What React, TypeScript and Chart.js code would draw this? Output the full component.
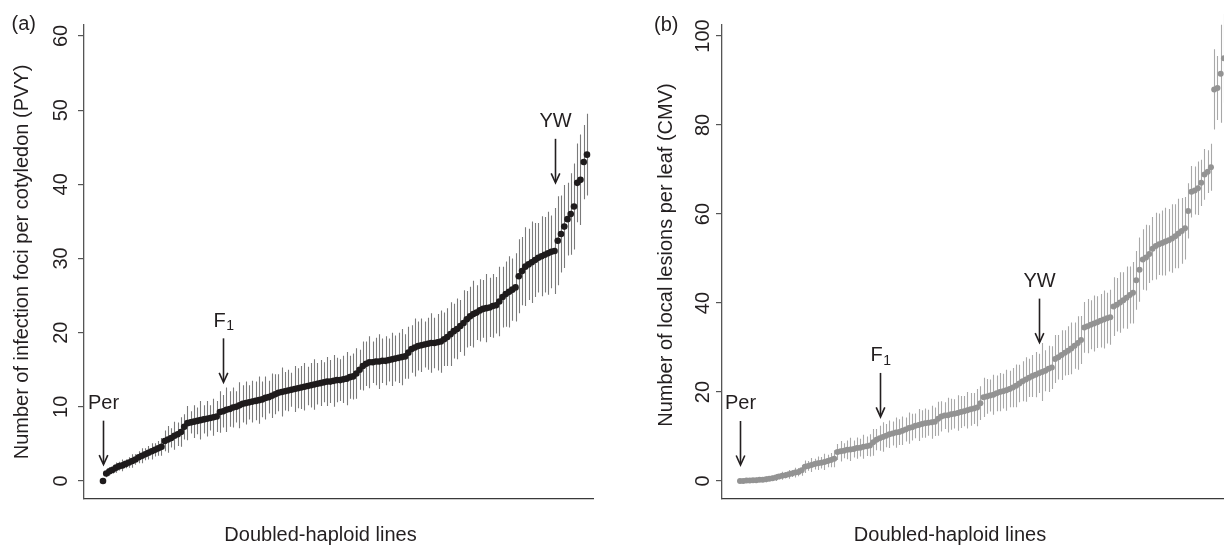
import React, { useEffect, useRef } from "react";
import { Chart, registerables } from "chart.js";

Chart.register(...registerables);

const FONT = '"Liberation Sans", Arial, Helvetica, sans-serif';
const INK = "#231f20";

// ---------- Panel (a): PVY ----------
const pvyMeans = [
  0, 1.0, 1.3, 1.5, 1.8, 2.0, 2.1, 2.3, 2.5, 2.7,
  2.9, 3.2, 3.4, 3.6, 3.8, 4.0, 4.2, 4.4, 4.6, 5.4,
  5.6, 5.8, 6.1, 6.3, 6.6, 7.3, 7.8, 7.9, 8.0, 8.1,
  8.2, 8.3, 8.4, 8.5, 8.6, 8.7, 9.3, 9.4, 9.6, 9.7,
  9.9, 10.0, 10.2, 10.4, 10.5, 10.6, 10.7, 10.8, 10.9, 11.0,
  11.2, 11.3, 11.5, 11.7, 11.9, 12.0, 12.1, 12.2, 12.3, 12.4,
  12.5, 12.6, 12.7, 12.8, 12.9, 13.0, 13.1, 13.2, 13.3, 13.4,
  13.4, 13.5, 13.6, 13.6, 13.7, 13.8, 14.0, 14.1, 14.5, 15.0,
  15.5, 15.8, 16.0, 16.0, 16.1, 16.1, 16.2, 16.2, 16.3, 16.4,
  16.5, 16.6, 16.7, 16.8, 17.3, 17.8, 18.0, 18.2, 18.3, 18.4,
  18.5, 18.6, 18.6, 18.7, 18.8, 19.1, 19.4, 19.8, 20.2, 20.5,
  20.9, 21.3, 21.8, 22.2, 22.5, 22.7, 23.0, 23.2, 23.3, 23.4,
  23.6, 23.7, 24.2, 24.8, 25.2, 25.5, 25.8, 26.1, 27.6, 28.3,
  28.9, 29.2, 29.5, 29.8, 30.1, 30.3, 30.5, 30.7, 30.9, 31.0,
  32.4, 33.3, 34.3, 35.3, 36.0, 37.0, 40.2, 40.6, 43.0, 44.0,
];
const pvyErrors = [
  0.3, 0.5, 0.6, 0.5, 0.7, 0.6, 0.8, 0.6, 0.7, 0.9,
  0.7, 0.8, 1.0, 0.8, 0.9, 1.1, 0.9, 1.0, 1.2, 1.4,
  1.8, 1.3, 1.9, 1.6, 2.0, 1.7, 2.3, 1.5, 2.2, 1.8,
  2.6, 1.9, 2.4, 1.7, 2.5, 2.1, 2.8, 2.2, 3.0, 2.4,
  2.7, 2.1, 3.1, 2.5, 2.9, 2.3, 2.8, 2.6, 3.2, 2.4,
  2.9, 2.2, 3.0, 2.7, 2.5, 3.3, 2.6, 2.8, 2.3, 3.1,
  2.7, 2.9, 3.2, 2.6, 3.0, 3.4, 2.8, 3.1, 2.7, 3.3,
  2.9, 3.5, 3.0, 2.8, 3.2, 3.6, 2.9, 3.1, 3.4, 2.7,
  3.3, 3.0, 3.5, 2.8, 3.2, 3.7, 3.0, 3.3, 2.9, 3.6,
  3.1, 3.4, 3.8, 3.0, 3.5, 3.2, 3.9, 3.3, 3.6, 3.1,
  3.5, 4.0, 3.4, 3.8, 4.2, 3.6, 3.9, 4.3, 3.7, 4.1,
  3.5, 4.4, 3.8, 4.0, 4.5, 3.7, 4.2, 3.9, 4.6, 4.0,
  4.3, 3.8, 4.7, 4.1, 4.4, 4.8, 4.2, 4.6, 5.0, 4.6,
  5.3, 4.8, 5.5, 5.0, 4.7, 5.4, 5.1, 5.6, 4.9, 5.8,
  6.0, 5.2, 5.6, 4.9, 5.5, 5.8, 5.3, 6.1, 5.0, 5.5,
];
const pvyTicks = [0, 10, 20, 30, 40, 50, 60];
const pvyMarkerLabels = ["Per", "F_1", "YW"];
const pvyMarkerLines = [0, 37, 139];
const pvyMarkerTips = [2.2, 13.3, 40.2];

// ---------- Panel (b): CMV ----------
const cmvMeans = [
  0.0, 0.0, 0.1, 0.1, 0.2, 0.2, 0.3, 0.3, 0.4, 0.5,
  0.6, 0.8, 1.0, 1.2, 1.3, 1.5, 1.7, 1.9, 2.0, 2.4,
  3.2, 3.4, 3.6, 3.8, 4.0, 4.1, 4.3, 4.5, 4.7, 5.0,
  6.5, 6.7, 6.8, 7.0, 7.1, 7.2, 7.4, 7.5, 7.7, 7.8,
  8.0, 8.7, 9.3, 9.6, 9.9, 10.2, 10.5, 10.7, 10.9, 11.0,
  11.3, 11.6, 11.9, 12.1, 12.4, 12.6, 12.8, 13.0, 13.1, 13.2,
  13.3, 14.0, 14.5, 14.7, 14.8, 15.0, 15.1, 15.3, 15.5, 15.7,
  15.9, 16.1, 16.3, 16.5, 17.5, 18.8, 19.0, 19.2, 19.4, 19.7,
  20.0, 20.2, 20.4, 20.7, 21.0, 21.4, 21.9, 22.4, 22.8, 23.2,
  23.6, 23.9, 24.2, 24.5, 24.8, 25.2, 25.5, 27.4, 27.8, 28.3,
  28.8, 29.3, 29.8, 30.4, 31.0, 31.7, 34.5, 34.8, 35.1, 35.4,
  35.7, 36.0, 36.3, 36.6, 36.8, 39.2, 39.6, 40.1, 40.6, 41.2,
  41.8, 42.3, 45.1, 47.5, 49.8, 50.2, 51.0, 52.2, 52.8, 53.2,
  53.5, 53.8, 54.1, 54.5, 55.0, 55.6, 56.2, 56.8, 60.7, 65.0,
  65.3, 65.8, 67.0, 68.9, 69.5, 70.5, 88.0, 88.3, 91.5, 95.0,
];
const cmvErrors = [
  0.3, 0.4, 0.3, 0.5, 0.4, 0.6, 0.4, 0.5, 0.7, 0.5,
  0.6, 0.8, 0.6, 0.9, 0.7, 1.0, 0.8, 1.1, 0.9, 1.2,
  1.4, 1.1, 1.6, 1.2, 1.5, 1.3, 1.8, 1.4, 1.6, 1.9,
  1.8, 2.3, 1.7, 2.1, 2.6, 1.9, 2.4, 2.0, 2.7, 2.2,
  2.5, 3.0, 2.4, 2.8, 3.3, 2.6, 3.1, 2.7, 3.4, 2.9,
  3.2, 2.7, 3.5, 3.0, 2.8, 3.6, 3.1, 3.3, 2.9, 3.7,
  3.2, 3.8, 3.4, 3.0, 3.9, 3.5, 3.3, 4.0, 3.6, 3.4,
  4.1, 3.7, 3.5, 4.2, 3.8, 4.4, 3.9, 3.6, 4.5, 4.0,
  4.3, 3.9, 4.6, 4.1, 4.4, 4.8, 4.2, 4.5, 5.0, 4.3,
  4.7, 5.1, 4.4, 6.5, 4.6, 5.2, 4.8, 5.4, 5.0, 5.6,
  5.1, 5.5, 5.8, 5.2, 6.0, 5.4, 5.7, 6.1, 5.5, 6.3,
  5.8, 6.0, 6.5, 5.7, 6.2, 6.6, 6.0, 6.8, 6.3, 7.0,
  6.4, 6.9, 6.6, 7.2, 6.8, 7.4, 6.5, 7.1, 7.5, 6.9,
  7.3, 7.6, 7.0, 7.7, 7.2, 7.8, 7.4, 7.0, 6.2, 5.8,
  5.4, 6.0, 5.2, 5.7, 4.8, 5.3, 9.0, 7.2, 11.0, 10.0,
];
const cmvTicks = [0, 20, 40, 60, 80, 100];
const cmvMarkerLabels = ["Per", "F_1", "YW"];
const cmvMarkerLines = [0, 43, 92];
const cmvMarkerTips = [3.6, 14.4, 31.1];

const xTitle = "Doubled-haploid lines";

type PanelSpec = {
  letter: string;
  yTitle: string;
  means: number[];
  errors: number[];
  ticks: number[];
  markerLabels: string[];
  markerLines: number[];
  markerTips: number[];
  yMin: number;
  yMax: number;
  xMin: number;
  xMax: number;
  canvasLeft: number;
  canvasWidth: number;
  padRight: number;
  pointColor: string;
  pointRadius: number;
  barColor: string;
  barWidth: number;
  tickLabelX: number;
  yTitleX: number;
  yTitleY: number;
  xTitleX: number;
  letterX: number;
  letterY: number;
};

const errorBarPlugin = {
  id: "errorBars",
  beforeDatasetsDraw(chart: any, _args: any, opts: any) {
    const { ctx } = chart;
    const xs = chart.scales.x;
    const ys = chart.scales.y;
    const pts = chart.data.datasets[0].data as { x: number; y: number }[];
    ctx.save();
    ctx.strokeStyle = opts.color;
    ctx.lineWidth = opts.width;
    ctx.beginPath();
    pts.forEach((p, i) => {
      const e = opts.errors[i];
      const px = Math.round(xs.getPixelForValue(p.x)) + 0.5;
      ctx.moveTo(px, ys.getPixelForValue(p.y - e));
      ctx.lineTo(px, ys.getPixelForValue(p.y + e));
    });
    ctx.stroke();
    ctx.restore();
  },
};

const decorPlugin = {
  id: "decor",
  afterDraw(chart: any, _args: any, o: any) {
    const { ctx } = chart;
    const xs = chart.scales.x;
    const ys = chart.scales.y;
    ctx.save();
    ctx.fillStyle = INK;
    ctx.strokeStyle = INK;

    // y tick labels (rotated)
    ctx.font = `20px ${FONT}`;
    ctx.textAlign = "center";
    ctx.textBaseline = "middle";
    o.ticks.forEach((v: number) => {
      ctx.save();
      ctx.translate(o.tickLabelX, ys.getPixelForValue(v));
      ctx.rotate(-Math.PI / 2);
      ctx.fillText(String(v), 0, 0);
      ctx.restore();
    });

    // y title
    ctx.save();
    ctx.translate(o.yTitleX, o.yTitleY);
    ctx.rotate(-Math.PI / 2);
    ctx.fillText(o.yTitle, 0, 0);
    ctx.restore();

    // x title
    ctx.textBaseline = "alphabetic";
    ctx.fillText(o.xTitle, o.xTitleX, 540.5);

    // panel letter
    ctx.textAlign = "left";
    ctx.textBaseline = "middle";
    ctx.fillText(o.letter, o.letterX, o.letterY);

    // markers (arrows + labels)
    o.markerLabels.forEach((label: string, k: number) => {
      const px = Math.round(xs.getPixelForValue(o.markerLines[k])) + 0.5;
      const tip = ys.getPixelForValue(o.markerTips[k]);
      const top = tip - 44;
      ctx.lineWidth = 1.6;
      ctx.beginPath();
      ctx.moveTo(px, top);
      ctx.lineTo(px, tip - 1);
      ctx.stroke();
      ctx.beginPath();
      ctx.moveTo(px - 4.3, tip - 9.5);
      ctx.lineTo(px, tip);
      ctx.lineTo(px + 4.3, tip - 9.5);
      ctx.stroke();
      const base = top - 11.5;
      ctx.textBaseline = "alphabetic";
      const parts = label.split("_");
      if (parts.length === 2) {
        ctx.font = `20px ${FONT}`;
        const w1 = ctx.measureText(parts[0]).width;
        ctx.font = `14px ${FONT}`;
        const w2 = ctx.measureText(parts[1]).width;
        const start = px - (w1 + w2) / 2;
        ctx.textAlign = "left";
        ctx.font = `20px ${FONT}`;
        ctx.fillText(parts[0], start, base);
        ctx.font = `14px ${FONT}`;
        ctx.fillText(parts[1], start + w1 + 0.5, base + 3.5);
      } else {
        ctx.font = `20px ${FONT}`;
        ctx.textAlign = "center";
        ctx.fillText(label, px, base);
      }
    });
    ctx.restore();
  },
};

function buildConfig(s: PanelSpec): any {
  return {
    type: "scatter",
    data: {
      datasets: [
        {
          data: s.means.map((v, i) => ({ x: i, y: v })),
          pointRadius: s.pointRadius,
          pointBackgroundColor: s.pointColor,
          pointBorderWidth: 0,
          showLine: false,
          clip: false,
        },
      ],
    },
    plugins: [errorBarPlugin, decorPlugin],
    options: {
      animation: false,
      responsive: false,
      events: [],
      layout: { padding: { top: 25, left: 0, right: s.padRight, bottom: 0 } },
      scales: {
        x: {
          type: "linear",
          min: s.xMin,
          max: s.xMax,
          grid: { display: false },
          ticks: { display: false },
          border: { display: true, color: "#3a3a3a", width: 1.3 },
          afterFit: (scale: any) => {
            scale.height = 47;
          },
        },
        y: {
          type: "linear",
          min: s.yMin,
          max: s.yMax,
          afterBuildTicks: (scale: any) => {
            scale.ticks = s.ticks.map((v) => ({ value: v }));
          },
          grid: {
            display: true,
            drawOnChartArea: false,
            drawTicks: true,
            tickLength: 6,
            color: "#555555",
            lineWidth: 1.2,
          },
          ticks: { display: false },
          border: { display: true, color: "#555555", width: 1.3 },
          afterFit: (scale: any) => {
            scale.width = 84;
          },
        },
      },
      plugins: {
        legend: { display: false },
        tooltip: { enabled: false },
        errorBars: { errors: s.errors, color: s.barColor, width: s.barWidth },
        decor: {
          ticks: s.ticks,
          tickLabelX: s.tickLabelX,
          yTitle: s.yTitle,
          yTitleX: s.yTitleX,
          yTitleY: s.yTitleY,
          xTitle,
          xTitleX: s.xTitleX,
          letter: s.letter,
          letterX: s.letterX,
          letterY: s.letterY,
          markerLabels: s.markerLabels,
          markerLines: s.markerLines,
          markerTips: s.markerTips,
        },
      },
    },
  };
}

const panelA: PanelSpec = {
  letter: "(a)",
  yTitle: "Number of infection foci per cotyledon (PVY)",
  means: pvyMeans,
  errors: pvyErrors,
  ticks: pvyTicks,
  markerLabels: pvyMarkerLabels,
  markerLines: pvyMarkerLines,
  markerTips: pvyMarkerTips,
  yMin: -2.43,
  yMax: 61.48,
  xMin: -5.85,
  xMax: 150.85,
  canvasLeft: 0,
  canvasWidth: 612,
  padRight: 19,
  pointColor: "#1e1b1c",
  pointRadius: 3.3,
  barColor: "#7a7a7a",
  barWidth: 1.1,
  tickLabelX: 61,
  yTitleX: 22.3,
  yTitleY: 262,
  xTitleX: 320.5,
  letterX: 11.5,
  letterY: 24,
};

const panelB: PanelSpec = {
  letter: "(b)",
  yTitle: "Number of local lesions per leaf (CMV)",
  means: cmvMeans,
  errors: cmvErrors,
  ticks: cmvTicks,
  markerLabels: cmvMarkerLabels,
  markerLines: cmvMarkerLines,
  markerTips: cmvMarkerTips,
  yMin: -4.04,
  yMax: 102.47,
  xMin: -5.54,
  xMax: 151.48,
  canvasLeft: 638,
  canvasWidth: 600,
  padRight: 6,
  pointColor: "#939393",
  pointRadius: 3.0,
  barColor: "#a8a8a8",
  barWidth: 1.1,
  tickLabelX: 65,
  yTitleX: 28.6,
  yTitleY: 255,
  xTitleX: 312,
  letterX: 16,
  letterY: 25,
};

function Panel({ spec }: { spec: PanelSpec }) {
  const ref = useRef<HTMLCanvasElement>(null);
  useEffect(() => {
    if (!ref.current) return;
    const chart = new Chart(ref.current, buildConfig(spec));
    return () => chart.destroy();
  }, [spec]);
  return (
    <canvas
      ref={ref}
      width={spec.canvasWidth}
      height={546}
      style={{
        position: "absolute",
        left: spec.canvasLeft,
        top: 0,
        width: spec.canvasWidth,
        height: 546,
        display: "block",
      }}
    />
  );
}

export default function App() {
  return (
    <div
      style={{
        position: "fixed",
        left: 0,
        top: 0,
        width: 1224,
        height: 546,
        overflow: "hidden",
        background: "#ffffff",
      }}
    >
      <Panel spec={panelA} />
      <Panel spec={panelB} />
    </div>
  );
}
